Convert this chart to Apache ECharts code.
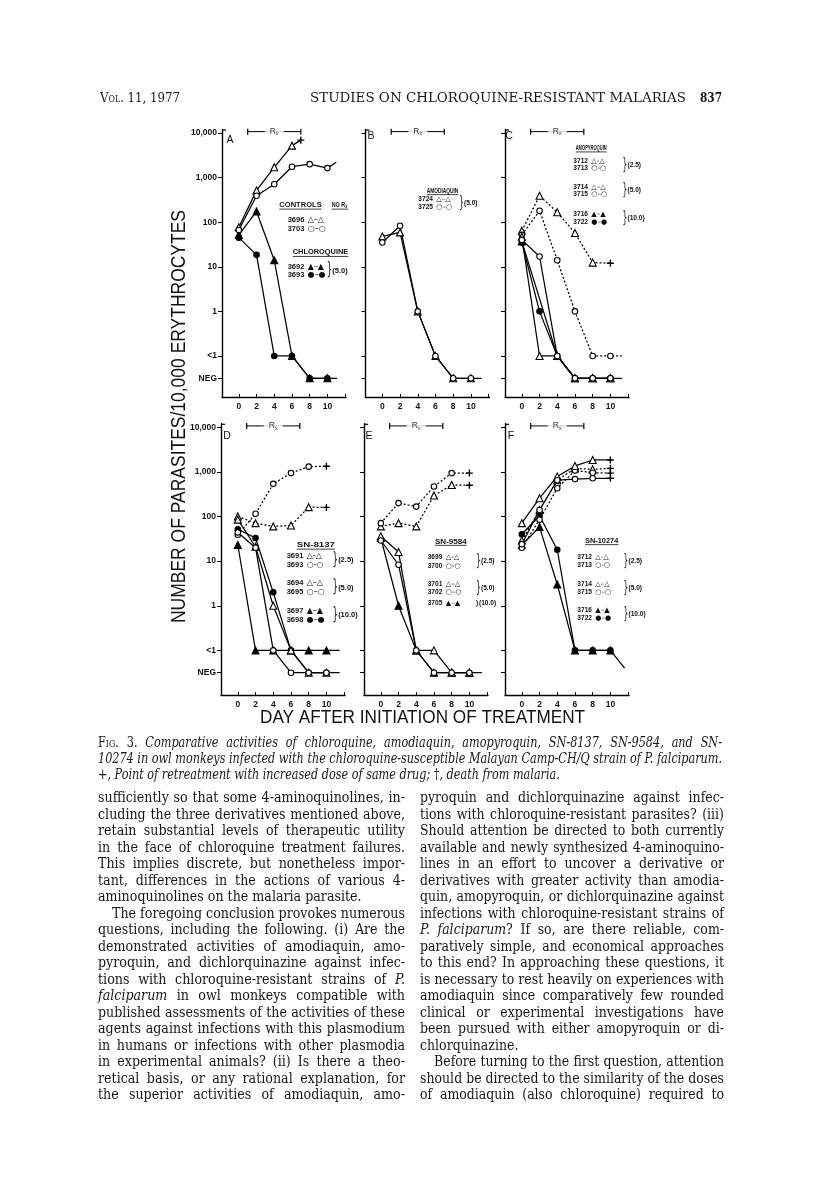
<!DOCTYPE html>
<html>
<head>
<meta charset="utf-8">
<title>Fig. 3</title>
<script src="https://cdn.jsdelivr.net/npm/echarts@6.0.0/dist/echarts.min.js"></script>
<style>
html,body{margin:0;padding:0;background:#fff;}
#page{position:relative;width:816px;height:1202px;overflow:hidden;background:#fff;}
#fig{position:absolute;left:0;top:0;width:816px;height:1202px;}
.ln{position:absolute;white-space:nowrap;color:#161616;line-height:16px;height:16px;}
.ln span.in{display:inline-block;transform-origin:0 50%;}
.body{font-family:'DejaVu Serif',serif;font-size:14.6px;}
.cap{font-family:'DejaVu Serif',serif;font-size:14.2px;font-style:italic;}
.hdr{font-family:'DejaVu Serif',serif;font-size:13.5px;}
.sc{font-variant:small-caps;font-style:normal;}
.up{font-style:normal;}
</style>
</head>
<body>
<div id="page"><div id="fig"></div></div>
<script>
// days after start of treatment
var days = [0, 2, 4, 6, 8, 10];
var dayLabels = [0, 2, 4, 6, 8, 10];
var dayTicks = [0, 2, 4, 6, 8, 10, 12];
// y is log10 of parasites/10,000 RBC, '<1' and 'NEG' sit below
var yTicks = [4, 3, 2, 1, 0, -1, -1.5];
var yTickText = ['10,000', '1,000', '100', '10', '1', '<1', 'NEG'];
var rxDays = [1, 7];

/* A controls + chloroquine */
var a3696 = [77, 516, 1700, 5200, null, null];
var a3696End = [7, 6900, '+'];
var a3703 = [67, 390, 710, 1750, 2000, 1630];
var a3703End = [11, 2200, ''];
var a3692 = [52, 174, 14, '<1', 'NEG', 'NEG'];
var a3692End = [11.1, 'NEG', ''];
var a3693 = [45, 18.5, '<1', '<1', 'NEG', 'NEG'];

/* B amodiaquin */
var b3724 = [48, 59, 1, '<1', 'NEG', 'NEG'];
var b3724End = [11.2, 'NEG', ''];
var b3725 = [35, 83, 1, '<1', 'NEG', 'NEG'];

/* C amopyroquin */
var c3712 = [64, 390, 167, 57, 12.4, null];
var c3712End = [10, 12, '+'];
var c3713 = [52, 180, 14, 1, '<1', '<1'];
var c3713End = [11.3, '<1', ''];
var c3714 = [47, '<1', '<1', 'NEG', 'NEG', 'NEG'];
var c3715 = [40, 17, '<1', 'NEG', 'NEG', 'NEG'];
var c3716 = [37, null, '<1', 'NEG', 'NEG', 'NEG'];
var c3722 = [35, 1, '<1', 'NEG', 'NEG', 'NEG'];
var c3722End = [11.3, 'NEG', ''];

/* D SN-8137 */
var d3691 = [100, 71, 60, 63, 162, null];
var d3691End = [10, 160, '+'];
var d3693 = [39, 115, 540, 940, 1310, null];
var d3693End = [10, 1340, '+'];
var d3694 = [85, 21, 1, '<1', 'NEG', 'NEG'];
var d3695 = [44, 20, '<1', 'NEG', 'NEG', 'NEG'];
var d3697 = [23, '<1', '<1', '<1', '<1', '<1'];
var d3697End = [11.5, '<1', ''];
var d3698 = [52, 33, 2, '<1', 'NEG', 'NEG'];
var d3698End = [11.5, 'NEG', ''];

/* E SN-9584 */
var e3699 = [60, 71, 60, 295, 510, null];
var e3699End = [10, 500, '+'];
var e3700 = [71, 200, 167, 470, 940, null];
var e3700End = [10, 940, '+'];
var e3701 = [36, 16, '<1', '<1', 'NEG', 'NEG'];
var e3701End = [11.4, 'NEG', ''];
var e3702 = [29, 8.3, '<1', 'NEG', 'NEG', 'NEG'];
var e3705 = [33, 1, '<1', 'NEG', 'NEG', 'NEG'];

/* F SN-10274 */
var f3712 = [29, 140, 650, 1200, 1140, null];
var f3712End = [10, 1200, '+'];
var f3713 = [20, 85, 430, 1070, 960, null];
var f3713End = [10, 940, '+'];
var f3714 = [71, 257, 790, 1360, 1850, null];
var f3714End = [10, 1850, '+'];
var f3715 = [24, 140, 650, 690, 720, null];
var f3715End = [10, 720, '+'];
var f3716 = [23, 58, 3, '<1', '<1', '<1'];
var f3722 = [40, 104, 18, '<1', '<1', '<1'];
var f3722End = [11.6, 0.04, ''];

// [values, marker, line, end]
var panelSeries = [
  [[a3696, 'to', 'solid', a3696End], [a3703, 'co', 'solid', a3703End], [a3692, 'tf', 'solid', a3692End], [a3693, 'cf', 'solid', null]],
  [[b3724, 'to', 'solid', b3724End], [b3725, 'co', 'solid', null]],
  [[c3712, 'to', 'dot', c3712End], [c3713, 'co', 'dot', c3713End], [c3714, 'to', 'solid', null], [c3715, 'co', 'solid', null], [c3716, 'tf', 'solid', null], [c3722, 'cf', 'solid', c3722End]],
  [[d3691, 'to', 'dot', d3691End], [d3693, 'co', 'dot', d3693End], [d3694, 'to', 'solid', null], [d3695, 'co', 'solid', null], [d3697, 'tf', 'solid', d3697End], [d3698, 'cf', 'solid', d3698End]],
  [[e3699, 'to', 'dot', e3699End], [e3700, 'co', 'dot', e3700End], [e3701, 'to', 'solid', e3701End], [e3702, 'co', 'solid', null], [e3705, 'tf', 'solid', null]],
  [[f3712, 'to', 'dot', f3712End], [f3713, 'co', 'dot', f3713End], [f3714, 'to', 'solid', f3714End], [f3715, 'co', 'solid', f3715End], [f3716, 'tf', 'solid', null], [f3722, 'cf', 'solid', f3722End]]
];

// layout
var gridLeft = [222, 365.5, 505, 221, 364, 505];
var gridW = 124;
var rowTop = [129.4, 423.7];
var rowBottom = [397, 695];
var yMin = [-1.92, -2.0];
var yMax = 4.08;
var RX_Y = 4.03;
var letters = ['A', 'B', 'C', 'D', 'E', 'F'];
var letterPos = [[230, 140], [371, 136], [509, 136], [227, 436], [369, 436], [511, 436]];

var legends = [
  {size: 7.5, heads: [['CONTROLS', 279.3, 205, 42.4], ['NO R', 331.7, 205, 16.6, 'x'], ['CHLOROQUINE', 292.7, 252.3, 55.6]],
   items: [['3696', 'to', 1, 287.7, 220], ['3703', 'co', 1, 287.7, 228.7], ['3692', 'tf', 1, 287.7, 266.7], ['3693', 'cf', 1, 287.7, 275.3]],
   braces: [[326.7, 271, '(5.0)', 2]]},
  {size: 6.6, heads: [['AMODIAQUIN', 426.7, 191, 31.6]],
   items: [['3724', 'to', 1, 418.3, 199.3], ['3725', 'co', 1, 418.3, 207.3]],
   braces: [[459, 203.3, '(5.0)', 2]]},
  {size: 6.6, heads: [['AMOPYROQUIN', 575.7, 148.3, 31]],
   items: [['3712', 'to', 0, 573.3, 161], ['3713', 'co', 0, 573.3, 168.3], ['3714', 'to', 1, 573.3, 186.7], ['3715', 'co', 1, 573.3, 194], ['3716', 'tf', 1, 573.3, 214.3], ['3722', 'cf', 1, 573.3, 221.7]],
   braces: [[622.5, 164.7, '(2.5)', 2], [622.5, 190.3, '(5.0)', 2], [622.5, 218, '(10.0)', 2]]},
  {size: 7.5, heads: [['SN-8137', 296.7, 545, 38.3]],
   items: [['3691', 'to', 0, 286.7, 556], ['3693', 'co', 0, 286.7, 564.7], ['3694', 'to', 1, 286.7, 583.3], ['3695', 'co', 1, 286.7, 592], ['3697', 'tf', 1, 286.7, 610.7], ['3698', 'cf', 1, 286.7, 620]],
   braces: [[332.5, 560.3, '(2.5)', 2], [332.5, 587.7, '(5.0)', 2], [332.5, 615.3, '(10.0)', 2]]},
  {size: 6.6, heads: [['SN-9584', 435, 541.7, 31.7]],
   items: [['3699', 'to', 0, 427.7, 556.7], ['3700', 'co', 0, 427.7, 565.7], ['3701', 'to', 1, 427.7, 584.3], ['3702', 'co', 1, 427.7, 592], ['3705', 'tf', 1, 427.7, 602.7]],
   braces: [[476, 561.2, '(2.5)', 2], [476, 588.2, '(5.0)', 2], [476, 602.7, '(10.0)', 1]]},
  {size: 6.6, heads: [['SN-10274', 585, 541, 33.3]],
   items: [['3712', 'to', 0, 577.3, 556.7], ['3713', 'co', 0, 577.3, 565.3], ['3714', 'to', 1, 577.3, 584.3], ['3715', 'co', 1, 577.3, 592], ['3716', 'tf', 1, 577.3, 610], ['3722', 'cf', 1, 577.3, 618.3]],
   braces: [[623.5, 561, '(2.5)', 2], [623.5, 588.2, '(5.0)', 2], [623.5, 614.2, '(10.0)', 2]]}
];

var SANS = 'Liberation Sans';
var PLUS = 'path://M4,0H6V4H10V6H6V10H4V6H0V4H4Z';

function toLog(v) {
  if (v === '<1') return -1;
  if (v === 'NEG') return -1.5;
  return Math.log10(v);
}
function yFmt(v) {
  for (var i = 0; i < yTicks.length; i++) {
    if (Math.abs(v - yTicks[i]) < 1e-6) return yTickText[i];
  }
  return '';
}
var mctx = document.createElement('canvas').getContext('2d');
function textW(t, font) { mctx.font = font; return mctx.measureText(t).width; }

function lineSeries(gi, vals, mark, dash, end) {
  var data = [];
  for (var i = 0; i < days.length; i++) {
    if (vals[i] !== null) data.push([days[i], toLog(vals[i])]);
  }
  if (end) {
    data.push({
      value: [end[0], toLog(end[1])],
      symbol: end[2] === '+' ? PLUS : 'none',
      symbolSize: 7,
      itemStyle: {color: '#000', borderWidth: 0}
    });
  }
  var tri = mark.charAt(0) === 't', filled = mark.charAt(1) === 'f';
  return {
    type: 'line', xAxisIndex: gi, yAxisIndex: gi, data: data,
    symbol: tri ? 'triangle' : 'circle', symbolSize: tri ? 7 : 5.5,
    showAllSymbol: true, silent: true, animation: false,
    itemStyle: {color: filled ? '#000' : '#fff', borderColor: '#000', borderWidth: 1.1},
    lineStyle: {color: '#000', width: 1.25, type: dash === 'dot' ? [2, 2] : 'solid'},
    z: filled ? 3 : 4
  };
}

var grids = [], xAxes = [], yAxes = [], series = [], gfx = [];
for (var g = 0; g < 6; g++) {
  var row = g < 3 ? 0 : 1;
  grids.push({left: gridLeft[g], top: rowTop[row], width: gridW, height: rowBottom[row] - rowTop[row]});
  xAxes.push({
    type: 'value', gridIndex: g, min: -1.9, max: 12.1, splitLine: {show: false},
    axisLine: {show: true, onZero: false, lineStyle: {color: '#000', width: 1.4}},
    axisTick: {show: true, inside: true, length: 3, customValues: dayTicks, lineStyle: {color: '#000', width: 1}},
    axisLabel: {customValues: dayLabels, fontSize: 8.5, fontWeight: 'bold', color: '#111', margin: 5, fontFamily: SANS}
  });
  yAxes.push({
    type: 'value', gridIndex: g, min: yMin[row], max: yMax, splitLine: {show: false},
    axisLine: {show: true, onZero: false, lineStyle: {color: '#000', width: 1.4}},
    axisTick: {show: true, length: 4, customValues: yTicks, lineStyle: {color: '#000', width: 1}},
    axisLabel: {show: g === 0 || g === 3, customValues: yTicks, formatter: yFmt, fontSize: 8.5, fontWeight: 'bold',
      color: '#111', margin: 5, fontFamily: SANS}
  });
  panelSeries[g].forEach(function (s) {
    series.push(lineSeries(g, s[0], s[1], s[2], s[3]));
  });
  // Rx bar
  series.push({
    type: 'line', xAxisIndex: g, yAxisIndex: g, silent: true, animation: false,
    data: [[rxDays[0], RX_Y], [rxDays[1], RX_Y]],
    symbol: 'rect', symbolSize: [1.2, 6], itemStyle: {color: '#000'},
    lineStyle: {color: '#000', width: 1}
  });
  series.push({
    type: 'scatter', xAxisIndex: g, yAxisIndex: g, silent: true, animation: false, z: 6,
    data: [[(rxDays[0] + rxDays[1]) / 2, RX_Y]],
    symbolSize: 1, itemStyle: {color: 'rgba(0,0,0,0)'},
    label: {
      show: true, position: 'inside', formatter: '{r|R}{s|x}', backgroundColor: '#fff', padding: [0, 5],
      rich: {r: {fontSize: 8.5, fontFamily: SANS, color: '#000'}, s: {fontSize: 6, fontFamily: SANS, color: '#000', padding: [4, 0, 0, 0]}}
    }
  });
  // top hook of y axis
  gfx.push({type: 'line', shape: {x1: gridLeft[g], y1: rowTop[row] + 0.6, x2: gridLeft[g] + 4, y2: rowTop[row] + 0.6},
    style: {stroke: '#000', lineWidth: 1.2}});
  gfx.push({type: 'text', x: letterPos[g][0], y: letterPos[g][1],
    style: {text: letters[g], fontSize: 10.5, fontFamily: SANS, fill: '#111', align: 'center', verticalAlign: 'middle'}});
}

var glyph = {to: '\u25B3', tf: '\u25B2', co: '\u25CB', cf: '\u25CF'};
legends.forEach(function (L) {
  var f = 'bold ' + L.size + 'px "' + SANS + '"';
  L.heads.forEach(function (h) {
    var t = h[0] + (h[4] ? h[4] : '');
    var sc = h[3] / textW(t, f);
    var txt = h[4] ? '{a|' + h[0] + '}{b|' + h[4] + '}' : '{a|' + h[0] + '}';
    gfx.push({type: 'text', x: h[1], y: h[2], scaleX: sc,
      style: {text: txt, align: 'left', verticalAlign: 'middle',
        rich: {a: {fontSize: L.size, fontWeight: 'bold', fontFamily: SANS, fill: '#111'},
               b: {fontSize: L.size - 2, fontWeight: 'bold', fontFamily: SANS, fill: '#111', padding: [3, 0, 0, 0]}}}});
    gfx.push({type: 'line', shape: {x1: h[1], y1: h[2] + L.size * 0.55, x2: h[1] + h[3], y2: h[2] + L.size * 0.55},
      style: {stroke: '#111', lineWidth: 0.8}});
  });
  L.items.forEach(function (it) {
    var gl = glyph[it[1]];
    var sym = gl + (it[2] ? '\u2013' : '-') + gl;
    gfx.push({type: 'text', x: it[3], y: it[4],
      style: {text: '{n|' + it[0] + '} {m|' + sym + '}', align: 'left', verticalAlign: 'middle',
        rich: {n: {fontSize: L.size, fontWeight: 'bold', fontFamily: SANS, fill: '#111'},
               m: {fontSize: L.size + 0.5, fontFamily: 'DejaVu Sans', fill: '#111'}}}});
  });
  L.braces.forEach(function (b) {
    if (b[3] === 2) {
      gfx.push({type: 'text', x: b[0], y: b[1], scaleX: 0.5,
        style: {text: '}', fontSize: L.size * 2.3, fontFamily: 'DejaVu Sans', fill: '#111', align: 'left', verticalAlign: 'middle'}});
    } else {
      gfx.push({type: 'text', x: b[0], y: b[1],
        style: {text: ')', fontSize: L.size, fontFamily: SANS, fontWeight: 'bold', fill: '#111', align: 'left', verticalAlign: 'middle'}});
    }
    gfx.push({type: 'text', x: b[0] + (b[3] === 2 ? L.size * 0.75 : L.size * 0.45), y: b[1],
      style: {text: b[2], fontSize: L.size, fontFamily: SANS, fontWeight: 'bold', fill: '#111', align: 'left', verticalAlign: 'middle'}});
  });
});

// axis titles, condensed to the printed width
var yTitle = 'NUMBER OF PARASITES/10,000 ERYTHROCYTES';
var xTitle = 'DAY AFTER INITIATION OF TREATMENT';
gfx.push({type: 'text', x: 179, y: 416.5, rotation: Math.PI / 2,
  scaleX: 413 / textW(yTitle, '21px "' + SANS + '"'),
  style: {text: yTitle, fontSize: 21, fontFamily: SANS, fill: '#111', align: 'center', verticalAlign: 'middle'}});
gfx.push({type: 'text', x: 422.5, y: 717.5,
  scaleX: 325 / textW(xTitle, '19px "' + SANS + '"'),
  style: {text: xTitle, fontSize: 19, fontFamily: SANS, fill: '#111', align: 'center', verticalAlign: 'middle'}});

var chart = echarts.init(document.getElementById('fig'), null, {renderer: 'canvas'});
chart.setOption({
  backgroundColor: 'transparent',
  animation: false,
  grid: grids,
  xAxis: xAxes,
  yAxis: yAxes,
  series: series,
  graphic: {elements: gfx}
});

/* page text */
var headerLines = [
  ['<span class="sc">Vol.</span> 11, 1977', 100, 80],
  ['STUDIES ON CHLOROQUINE-RESISTANT MALARIAS', 310, 376],
  ['<b>837</b>', 700, 22]
];
var captionLines = [
  ['<span class="sc">Fig.</span> <span class="up">3.</span> Comparative activities of chloroquine, amodiaquin, amopyroquin, SN-8137, SN-9584, and SN-', 1],
  ['10274 in owl monkeys infected with the chloroquine-susceptible Malayan Camp-CH/Q strain of P. falciparum.', 1],
  ['<span class="up">+</span>, Point of retreatment with increased dose of same drug; <span class="up">\u2020</span>, death from malaria.', 0]
];
var leftLines = [
  ['sufficiently so that some 4-aminoquinolines, in-', 1],
  ['cluding the three derivatives mentioned above,', 1],
  ['retain substantial levels of therapeutic utility', 1],
  ['in the face of chloroquine treatment failures.', 1],
  ['This implies discrete, but nonetheless impor-', 1],
  ['tant, differences in the actions of various 4-', 1],
  ['aminoquinolines on the malaria parasite.', 0],
  ['The foregoing conclusion provokes numerous', 1, 14],
  ['questions, including the following. (i) Are the', 1],
  ['demonstrated activities of amodiaquin, amo-', 1],
  ['pyroquin, and dichlorquinazine against infec-', 1],
  ['tions with chloroquine-resistant strains of <i>P.</i>', 1],
  ['<i>falciparum</i> in owl monkeys compatible with', 1],
  ['published assessments of the activities of these', 1],
  ['agents against infections with this plasmodium', 1],
  ['in humans or infections with other plasmodia', 1],
  ['in experimental animals? (ii) Is there a theo-', 1],
  ['retical basis, or any rational explanation, for', 1],
  ['the superior activities of amodiaquin, amo-', 1]
];
var rightLines = [
  ['pyroquin and dichlorquinazine against infec-', 1],
  ['tions with chloroquine-resistant parasites? (iii)', 1],
  ['Should attention be directed to both currently', 1],
  ['available and newly synthesized 4-aminoquino-', 1],
  ['lines in an effort to uncover a derivative or', 1],
  ['derivatives with greater activity than amodia-', 1],
  ['quin, amopyroquin, or dichlorquinazine against', 1],
  ['infections with chloroquine-resistant strains of', 1],
  ['<i>P. falciparum</i>? If so, are there reliable, com-', 1],
  ['paratively simple, and economical approaches', 1],
  ['to this end? In approaching these questions, it', 1],
  ['is necessary to rest heavily on experiences with', 1],
  ['amodiaquin since comparatively few rounded', 1],
  ['clinical or experimental investigations have', 1],
  ['been pursued with either amopyroquin or di-', 1],
  ['chlorquinazine.', 0],
  ['Before turning to the first question, attention', 1, 14],
  ['should be directed to the similarity of the doses', 1],
  ['of amodiaquin (also chloroquine) required to', 1]
];

var page = document.getElementById('page');
function addLine(html, x, yc, cls) {
  var d = document.createElement('div');
  d.className = 'ln ' + cls;
  d.style.left = x + 'px';
  d.style.top = (yc - 8) + 'px';
  var s = document.createElement('span');
  s.className = 'in';
  s.innerHTML = html;
  d.appendChild(s);
  page.appendChild(d);
  return s;
}
function textBlock(lines, x, w, y0, dy, cls) {
  var els = [];
  lines.forEach(function (ln, i) {
    var ind = ln[2] || 0;
    var s = addLine(ln[0], x + ind, y0 + i * dy, cls);
    els.push({span: s, w: w - ind, just: ln[1], nat: s.getBoundingClientRect().width,
      sp: (s.textContent.match(/ /g) || []).length});
  });
  var k = 1;
  els.forEach(function (e) { if (e.just) k = Math.min(k, e.w / e.nat); });
  els.forEach(function (e) {
    e.span.style.transform = 'scaleX(' + k + ')';
    if (e.just && e.sp) e.span.style.wordSpacing = ((e.w / k - e.nat) / e.sp) + 'px';
  });
}
headerLines.forEach(function (h) {
  textBlock([[h[0], 1]], h[1], h[2], 97, 0, 'hdr');
});
textBlock(captionLines, 98, 624, 742, 16, 'cap');
textBlock(leftLines, 98, 307, 797, 16.5, 'body');
textBlock(rightLines, 420, 304, 797, 16.5, 'body');
</script>
</body>
</html>
